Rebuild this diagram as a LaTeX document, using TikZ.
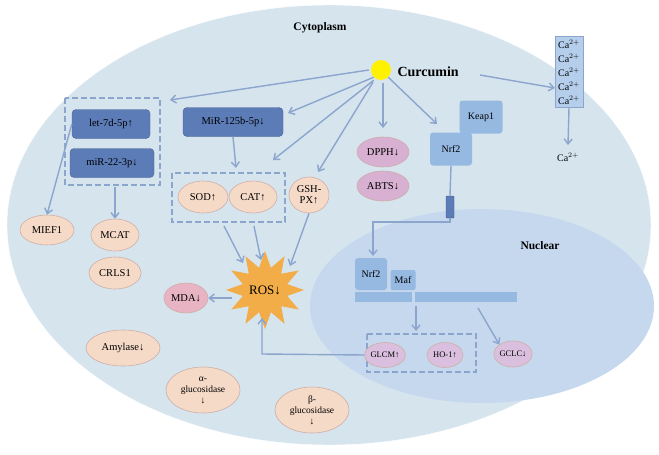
\documentclass[tikz,border=0pt]{standalone}
\usepackage{fontspec}
\setmainfont{Liberation Serif}
\usetikzlibrary{shapes.geometric,shapes.misc,arrows.meta}
\definecolor{cyto}{RGB}{214,228,238}
\definecolor{nuc}{RGB}{198,216,238}
\definecolor{arr}{RGB}{140,165,205}
\definecolor{peach}{RGB}{246,218,200}
\definecolor{peachb}{RGB}{205,175,165}
\definecolor{purp}{RGB}{218,192,222}
\definecolor{pink}{RGB}{232,180,196}
\definecolor{dpph}{RGB}{216,176,210}
\definecolor{dkblue}{RGB}{92,124,184}
\definecolor{ltblue}{RGB}{150,185,226}
\definecolor{rosc}{RGB}{242,172,72}
\begin{document}
\begin{tikzpicture}[x=1pt,y=-1pt,
 a/.style={draw=arr,line width=1.4pt,-{Straight Barb[length=5pt,width=8pt]}},
 ln/.style={draw=arr,line width=1.4pt},
 el/.style={ellipse,draw=peachb,fill=peach,line width=0.6pt,inner sep=0pt,font=\fontsize{10.5}{11}\selectfont,align=center},
 pl/.style={el,fill=purp,draw=peachb},
 db/.style={draw=arr,dashed,dash pattern=on 6pt off 3pt,line width=1.6pt},
 mir/.style={rounded corners=4pt,fill=dkblue,draw=dkblue!80!black,line width=0.4pt,font=\fontsize{10.5}{11}\selectfont},
 lb/.style={rounded corners=3pt,fill=ltblue,font=\fontsize{10}{11}\selectfont},
 ca/.style={font=\fontsize{10}{10}\selectfont,inner sep=0pt}]
\useasboundingbox (0,0) rectangle (659,455);
\fill[white] (0,0) rectangle (659,455);
\node[ellipse,fill=cyto,draw=white,minimum width=644pt,minimum height=440pt] (cyto) at (329,225) {};
\node[ellipse,fill=nuc,minimum width=344pt,minimum height=194pt] (nucl) at (482,306) {};
\node[font=\bfseries\fontsize{11.5}{12}\selectfont] (tc) at (320,28) {Cytoplasm};
\node[font=\bfseries\fontsize{11.5}{12}\selectfont] (tn) at (540,246) {Nuclear};
\node[circle,fill=yellow,minimum size=20pt,inner sep=0pt] (sun) at (381,70) {};
\node[font=\bfseries\fontsize{14}{15}\selectfont,anchor=west] (cur) at (394,72) {Curcumin};
% Ca
\node[draw=arr,fill=ltblue!70,minimum width=28pt,minimum height=71pt,inner sep=0pt] (cabox) at (569,72) {};
\foreach \i/\yy in {1/44,2/58,3/72,4/86,5/100}{\node[ca] (ca\i) at (569,\yy) {Ca$^{2+}$};}
\node[ca] (caout) at (568,157) {Ca$^{2+}$};
\coordinate (cs) at (480,75);
\draw[a] (cs) -- (cabox.west|-0,88);
\draw[a] (cabox.south) -- (568,145);
% Keap1 / Nrf2
\node[lb,minimum width=43pt,minimum height=33pt] (keap) at (481,117) {Keap1};
\node[lb,minimum width=42pt,minimum height=33pt] (nrf) at (451,149) {Nrf2};
\node[fill=dkblue,draw=dkblue!70!black,rounded corners=1pt,minimum width=8pt,minimum height=22pt,inner sep=0pt] (chan) at (450,207) {};
\draw[ln] (nrf.south) -- (chan.north);
\coordinate (k1) at (450,222); \coordinate (k2) at (373,222);
\draw[a] (chan.south) -- (k1) -- (k2) -- (373,256);
% nucleus contents
\node[lb,minimum width=32pt,minimum height=32pt] (nrf2n) at (371,274) {Nrf2};
\node[lb,minimum width=25pt,minimum height=20pt,rounded corners=2pt] (maf) at (403,280) {Maf};
\fill[ltblue] (355,292) rectangle (412,302);
\fill[ltblue] (415,292) rectangle (517,302);
\coordinate (bar1) at (416,306); \coordinate (bar2) at (478,308);
\draw[db] (367,334) rectangle (476,372);
\node[pl,minimum width=36pt,minimum height=25pt,font=\fontsize{8.5}{9}\selectfont] (glcm) at (385,355) {GLCM↑};
\node[pl,minimum width=36pt,minimum height=25pt,font=\fontsize{8.5}{9}\selectfont] (ho) at (445,355) {HO-1↑};
\node[pl,minimum width=38pt,minimum height=26pt,font=\fontsize{8.5}{9}\selectfont] (gclc) at (513,354) {GCLC↓};
\draw[a] (bar1) -- (416,331);
\draw[a] (bar2) -- (gclc.north west);
% ROS
\node[star,star points=12,star point ratio=1.7,fill=rosc,minimum size=78pt,inner sep=0pt] (ros) at (265,290) {};
\node[font=\fontsize{13}{14}\selectfont] (rost) at (265,290) {ROS↓};
\node[el,fill=pink,minimum width=44pt,minimum height=30pt] (mda) at (186,298) {MDA↓};
\draw[a] (232,298) -- (mda.east);
\draw[a] (glcm.west) -- (262,354) -- (262,318);
% SOD box
\draw[db] (172,173) rectangle (285,222);
\node[el,minimum width=50pt,minimum height=32pt] (sod) at (203,197) {SOD↑};
\node[el,minimum width=48pt,minimum height=32pt] (cat) at (253,197) {CAT↑};
\node[el,minimum width=40pt,minimum height=36pt] (gsh) at (309,195) {GSH-\\PX↑};
\draw[a] (224,226) -- (243,263);
\draw[a] (254,226) -- (261,260);
\draw[a] (gsh.south) -- (290,266);
% miRs
\node[mir,minimum width=100pt,minimum height=29pt] (m125) at (233,122) {MiR-125b-5p↓};
\draw[a] (m125.south) -- (236,168);
\draw[db] (65,98) rectangle (160,185);
\node[mir,minimum width=78pt,minimum height=29pt] (let) at (111,124) {let-7d-5p↑};
\node[mir,minimum width=84pt,minimum height=29pt] (m22) at (112,163) {miR-22-3p↓};
\node[el,minimum width=54pt,minimum height=30pt] (mief) at (47,230) {MIEF1};
\node[el,minimum width=48pt,minimum height=32pt] (mcat) at (115,235) {MCAT};
\node[el,minimum width=52pt,minimum height=32pt] (crls) at (115,273) {CRLS1};
\draw[a] (let.west) -- (mief.north);
\draw[a] (115,187) -- (mcat.north);
% DPPH
\node[el,fill=dpph,minimum width=52pt,minimum height=30pt] (dpph) at (383,152) {DPPH↓};
\node[el,fill=dpph,minimum width=52pt,minimum height=30pt] (abts) at (383,186) {ABTS↓};
% curcumin arrows
\draw[a] (sun.west) ++(-2,0) -- (170,100);
\draw[a] (sun.south west) -- (288,113);
\draw[a] (sun.south west) ++(0,3) -- (273,160);
\draw[a] (sun.south) ++(-8,2) -- (318,172);
\draw[a] (sun.south) ++(2,3) -- (383,128);
\draw[a] (sun.south east) -- (437,124);
% others
\node[el,minimum width=74pt,minimum height=36pt] (amy) at (123,348) {Amylase↓};
\node[el,minimum width=74pt,minimum height=46pt,font=\fontsize{9.5}{11}\selectfont] (ag) at (203,390) {α-\\glucosidase\\↓};
\node[el,minimum width=74pt,minimum height=46pt,font=\fontsize{9.5}{11}\selectfont] (bg) at (312,410) {β-\\glucosidase\\↓};
\end{tikzpicture}
\end{document}
